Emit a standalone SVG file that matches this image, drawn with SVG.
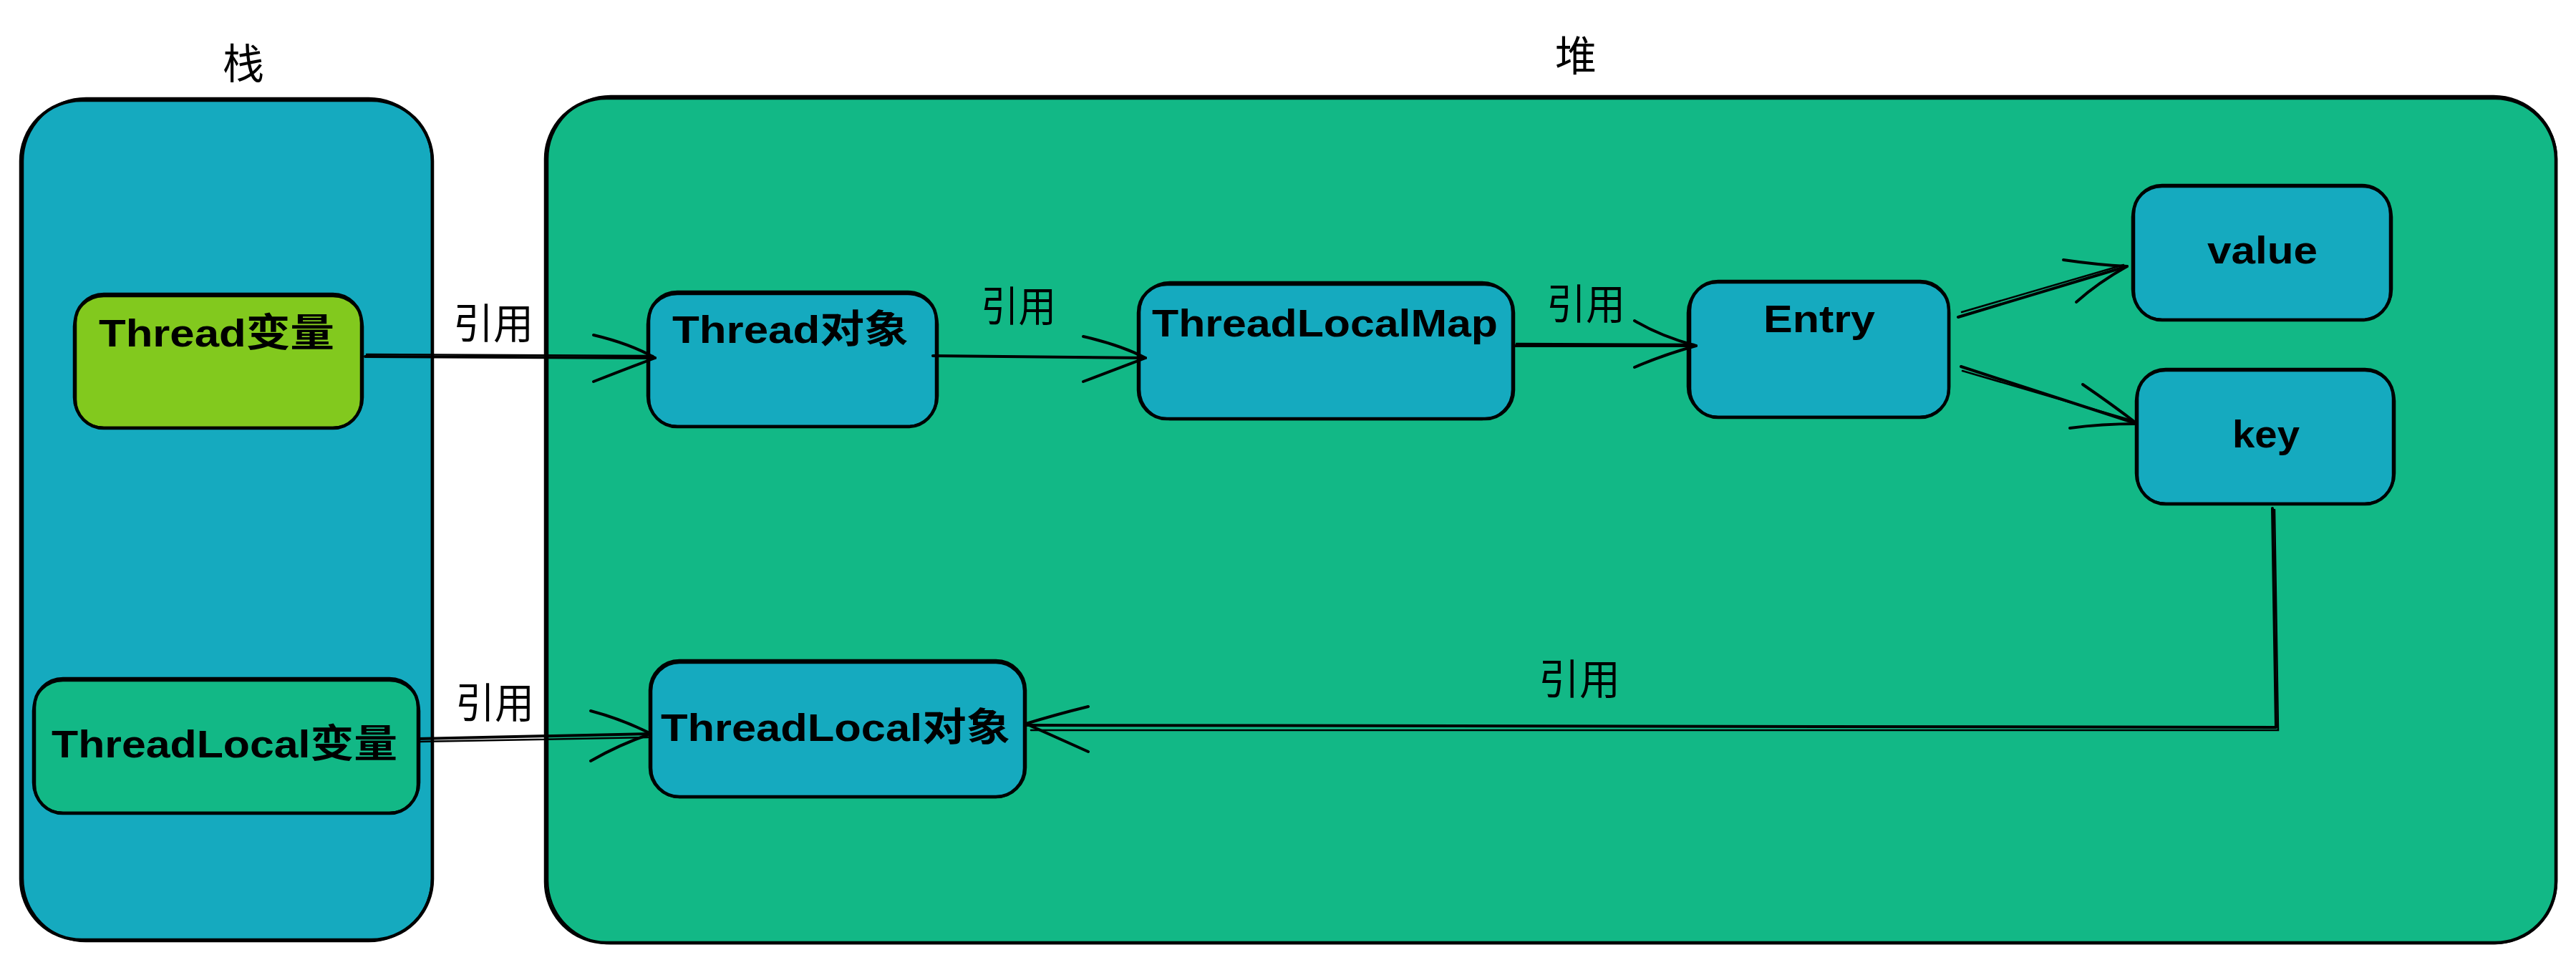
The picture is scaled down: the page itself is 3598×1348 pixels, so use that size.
<svg xmlns="http://www.w3.org/2000/svg" width="3598" height="1348" viewBox="0 0 3598 1348">
<style>
.box{stroke:#000;stroke-width:4.5;stroke-linejoin:round}
.box2{fill:none;stroke:#000;stroke-width:2.5}
.cyan{fill:#15aabf}
.teal{fill:#12b886}
.lime{fill:#82c91e}
.ntext{font-family:"Liberation Sans","Noto Sans CJK SC",sans-serif;font-size:54px;fill:#000;font-weight:bold}
.lbl{font-family:"Noto Sans CJK SC","Noto Sans CJK JP",sans-serif;font-size:58px;fill:#000}
.edge{fill:none;stroke:#000;stroke-width:4;stroke-linecap:round;stroke-linejoin:round}
.edge2{fill:none;stroke:#000;stroke-width:2.5;stroke-linecap:round}
</style>
<rect width="3598" height="1348" fill="#fff"/>

<g id="stack">
<rect class="box cyan" x="29" y="140" width="575" height="1173" rx="85"/>
<rect class="box2" x="32" y="137" width="571" height="1178" rx="88"/>
<text class="lbl" x="340" y="110" text-anchor="middle" font-size="62">栈</text>
</g>

<g id="heap">
<rect class="box teal" x="762" y="137" width="2808" height="1180" rx="85"/>
<rect class="box2" x="765" y="134" width="2806" height="1184" rx="88"/>
<text class="lbl" x="2201" y="99" text-anchor="middle" font-size="62">堆</text>
</g>

<g id="thread-var">
<rect class="box lime" x="105" y="411" width="400" height="187" rx="40"/>
<rect class="box2" x="103" y="414" width="404" height="183" rx="42"/>
<text class="ntext" x="138" y="484" textLength="329" lengthAdjust="spacingAndGlyphs">Thread变量</text>
</g>

<g id="threadlocal-var">
<rect class="box teal" x="48" y="948" width="536" height="188" rx="40"/>
<rect class="box2" x="46" y="951" width="540" height="184" rx="42"/>
<text class="ntext" x="72" y="1058" textLength="483" lengthAdjust="spacingAndGlyphs">ThreadLocal变量</text>
</g>

<g id="thread-obj">
<rect class="box cyan" x="906" y="408" width="402" height="188" rx="40"/>
<rect class="box2" x="904" y="411" width="406" height="184" rx="42"/>
<text class="ntext" x="939" y="479" textLength="330" lengthAdjust="spacingAndGlyphs">Thread对象</text>
</g>

<g id="threadlocalmap">
<rect class="box cyan" x="1590" y="397" width="524" height="188" rx="40"/>
<rect class="box2" x="1592" y="394" width="520" height="192" rx="42"/>
<text class="ntext" x="1609" y="470" textLength="483" lengthAdjust="spacingAndGlyphs">ThreadLocalMap</text>
</g>

<g id="entry">
<rect class="box cyan" x="2360" y="393" width="362" height="190" rx="40"/>
<rect class="box2" x="2357" y="395" width="366" height="187" rx="42"/>
<text class="ntext" x="2463" y="464" textLength="156" lengthAdjust="spacingAndGlyphs">Entry</text>
</g>

<g id="value">
<rect class="box cyan" x="2980" y="259" width="359" height="188" rx="40"/>
<rect class="box2" x="2978" y="261" width="363" height="185" rx="42"/>
<text class="ntext" x="3083" y="368" textLength="154" lengthAdjust="spacingAndGlyphs">value</text>
</g>

<g id="key">
<rect class="box cyan" x="2985" y="516" width="358" height="188" rx="40"/>
<rect class="box2" x="2983" y="518" width="362" height="185" rx="42"/>
<text class="ntext" x="3118" y="625" textLength="94" lengthAdjust="spacingAndGlyphs">key</text>
</g>

<g id="threadlocal-obj">
<rect class="box cyan" x="909" y="925" width="522" height="188" rx="40"/>
<rect class="box2" x="907" y="922" width="526" height="192" rx="42"/>
<text class="ntext" x="923" y="1035" textLength="488" lengthAdjust="spacingAndGlyphs">ThreadLocal对象</text>
</g>

<g id="connectors">
<!-- Thread变量 -> Thread对象 -->
<path class="edge" d="M510 498 L915 500"/>
<path class="edge2" d="M512 495 L912 497"/>
<path class="edge" d="M829 468 Q880 480 915 500 Q875 515 829 533"/>
<text class="lbl" x="633" y="473" textLength="112" lengthAdjust="spacingAndGlyphs">引用</text>
<!-- Thread对象 -> ThreadLocalMap -->
<path class="edge" d="M1303 497 L1600 500"/>
<path class="edge" d="M1513 470 Q1565 482 1600 500 Q1560 515 1513 533"/>
<text class="lbl" x="1370" y="449" textLength="105" lengthAdjust="spacingAndGlyphs">引用</text>
<!-- ThreadLocalMap -> Entry -->
<path class="edge" d="M2116 483 L2369 483"/>
<path class="edge2" d="M2118 480 L2366 481"/>
<path class="edge" d="M2283 448 Q2320 470 2369 483 Q2325 495 2283 513"/>
<text class="lbl" x="2160" y="446" textLength="110" lengthAdjust="spacingAndGlyphs">引用</text>
<!-- Entry -> value -->
<path class="edge" d="M2735 443 L2971 372"/>
<path class="edge2" d="M2740 436 L2966 370"/>
<path class="edge" d="M2882 363 Q2930 370 2971 372 Q2930 395 2900 422"/>
<!-- Entry -> key -->
<path class="edge" d="M2739 512 L2985 592"/>
<path class="edge2" d="M2741 518 L2980 588"/>
<path class="edge" d="M2909 537 Q2950 565 2985 592 Q2935 592 2891 598"/>
<!-- key -> ThreadLocal对象 -->
<path class="edge" d="M3174 710 L3179 1016 L1433 1013"/>
<path class="edge2" d="M3177 712 L3182 1020 L1440 1020"/>
<path class="edge" d="M1520 987 Q1475 998 1433 1011 Q1475 1030 1520 1050"/>
<text class="lbl" x="2149" y="970" textLength="114" lengthAdjust="spacingAndGlyphs">引用</text>
<!-- ThreadLocal变量 -> ThreadLocal对象 -->
<path class="edge" d="M584 1032 L909 1025"/>
<path class="edge2" d="M586 1036 L905 1030"/>
<path class="edge" d="M825 993 Q870 1005 909 1025 Q865 1040 825 1063"/>
<text class="lbl" x="636" y="1003" textLength="110" lengthAdjust="spacingAndGlyphs">引用</text>
</g>
</svg>
